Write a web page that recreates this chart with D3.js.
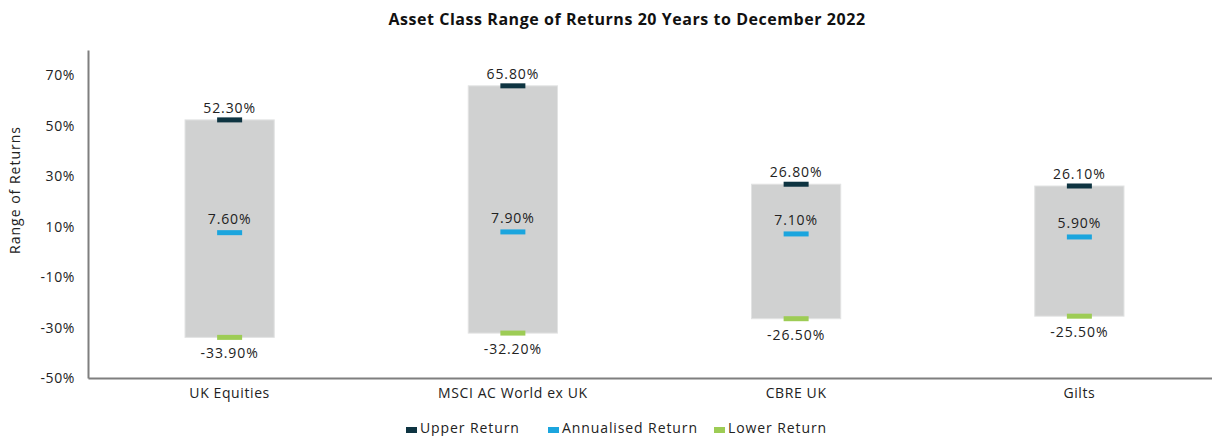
<!DOCTYPE html>
<html>
<head>
<meta charset="utf-8">
<script src="https://cdnjs.cloudflare.com/ajax/libs/d3/7.8.5/d3.min.js"></script>
<style>
  body { margin: 0; background: #fff; }
  svg { display: block; font-family: "Open Sans", sans-serif; letter-spacing: 0.6px; }
  .axis path { stroke: #7f7f7f; stroke-width: 2; }
  .axis text { fill: #222; font-size: 14px; font-family: "Open Sans", sans-serif; }
</style>
</head>
<body>
<script>
var categories = ["UK Equities", "MSCI AC World ex UK", "CBRE UK", "Gilts"];
var upper = [52.3, 65.8, 26.8, 26.1];
var annualised = [7.6, 7.9, 7.1, 5.9];
var lower = [-33.9, -32.2, -26.5, -25.5];
var yTicks = [70, 50, 30, 10, -10, -30, -50];
var seriesNames = ["Upper Return", "Annualised Return", "Lower Return"];
var seriesColors = ["#0e3441", "#1ba5de", "#9dcc55"];

var width = 1212, height = 436;
var margin = {top: 50, right: -9, bottom: 58, left: 88};

var svg = d3.select("body").append("svg")
    .attr("width", width)
    .attr("height", height);

var x = d3.scaleBand()
    .domain(categories)
    .range([margin.left, width - margin.right])
    .padding(0);

var y = d3.scaleLinear()
    .domain([-50, 80])
    .range([height - margin.bottom, margin.top]);

var barW = x.bandwidth() * 0.315,
    markW = 25,
    markH = 5;

var fmt = function(v) { return v.toFixed(2) + "%"; };

// title
svg.append("text")
    .attr("x", 627)
    .attr("y", 25)
    .attr("text-anchor", "middle")
    .style("font-size", "16px")
    .style("font-weight", "bold")
    .style("letter-spacing", "0.55px")
    .style("fill", "#111")
    .text("Asset Class Range of Returns 20 Years to December 2022");

// y axis title
svg.append("text")
    .attr("transform", "translate(20,190) rotate(-90)")
    .attr("text-anchor", "middle")
    .style("font-size", "14px")
    .style("letter-spacing", "1px")
    .style("fill", "#222")
    .text("Range of Returns");

var data = categories.map(function(c, i) {
    return {cat: c, hi: upper[i], mid: annualised[i], lo: lower[i]};
});

// range bars
svg.selectAll("rect.range")
    .data(data)
  .enter().append("rect")
    .attr("class", "range")
    .attr("x", function(d) { return x(d.cat) + x.bandwidth() / 2 - barW / 2; })
    .attr("width", barW)
    .attr("y", function(d) { return y(d.hi); })
    .attr("height", function(d) { return y(d.lo) - y(d.hi); })
    .attr("fill", "#d0d1d1")
    .attr("stroke", "#e2e3e3")
    .attr("stroke-width", 1);

var keys = ["hi", "mid", "lo"];
var labelDy = {hi: -7, mid: -9, lo: 21};

keys.forEach(function(k, ki) {
    svg.selectAll("rect.m-" + k)
        .data(data)
      .enter().append("rect")
        .attr("class", "m-" + k)
        .attr("x", function(d) { return x(d.cat) + x.bandwidth() / 2 - markW / 2; })
        .attr("y", function(d) { return y(d[k]) - markH / 2; })
        .attr("width", markW)
        .attr("height", markH)
        .attr("fill", seriesColors[ki]);

    svg.selectAll("text.l-" + k)
        .data(data)
      .enter().append("text")
        .attr("class", "l-" + k)
        .attr("x", function(d) { return x(d.cat) + x.bandwidth() / 2; })
        .attr("y", function(d) { return y(d[k]) + labelDy[k]; })
        .attr("text-anchor", "middle")
        .style("font-size", "14px")
        .style("letter-spacing", "0.9px")
        .style("fill", "#222")
        .text(function(d) { return fmt(d[k]); });
});

// axes
svg.append("g")
    .attr("class", "y axis")
    .attr("transform", "translate(" + margin.left + ",0)")
    .call(d3.axisLeft(y).tickValues(yTicks).tickSize(0).tickPadding(13)
        .tickFormat(function(d) { return d + "%"; }));

svg.append("g")
    .attr("class", "x axis")
    .attr("transform", "translate(0," + (height - margin.bottom) + ")")
    .call(d3.axisBottom(x).tickSize(0).tickPadding(10));

// legend
var legX = [406, 548, 714];
var legend = svg.selectAll("g.legend")
    .data(seriesNames)
  .enter().append("g")
    .attr("class", "legend")
    .attr("transform", function(d, i) { return "translate(" + legX[i] + ",424)"; });

legend.append("rect")
    .attr("y", 3)
    .attr("width", 11)
    .attr("height", 6)
    .attr("fill", function(d, i) { return seriesColors[i]; });

legend.append("text")
    .attr("x", 14)
    .attr("y", 9)
    .style("font-size", "14px")
    .style("letter-spacing", "0.9px")
    .style("fill", "#222")
    .text(function(d) { return d; });
</script>
</body>
</html>
